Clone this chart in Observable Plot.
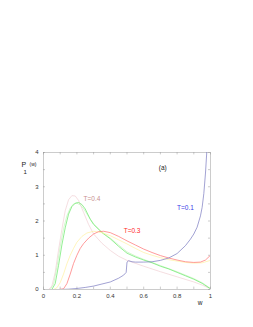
<!DOCTYPE html>
<html><head><meta charset="utf-8">
<script src="https://cdn.jsdelivr.net/npm/d3@7"></script>
<script src="https://cdn.jsdelivr.net/npm/@observablehq/plot@0.6"></script>
<style>body{margin:0;background:#fff;} svg{display:block;}</style>
</head><body><div id="chart"></div>
<script>
const xTicks = [0, 0.2, 0.4, 0.6, 0.8, 1];
const xMinor = [0.1, 0.3, 0.5, 0.7, 0.9];
const yTicks = [0, 1, 2, 3, 4];

const wPink = [0, 0.03, 0.05, 0.07, 0.09, 0.11, 0.13, 0.15, 0.17, 0.19, 0.21, 0.24, 0.27, 0.3, 0.35, 0.4, 0.45, 0.5, 0.6, 0.7, 0.8, 0.9, 0.95, 1.0];
const pPink = [0, 0, 0.1, 0.5, 1.15, 1.75, 2.3, 2.62, 2.74, 2.73, 2.6, 2.25, 1.9, 1.62, 1.35, 1.14, 0.97, 0.85, 0.68, 0.52, 0.37, 0.22, 0.13, 0.02];

const wLightGreen = [0, 0.04, 0.06, 0.08, 0.1, 0.12, 0.14, 0.16, 0.18, 0.2, 0.22, 0.24, 0.27, 0.3, 0.35, 0.4, 0.45, 0.5, 0.55, 0.6, 0.7, 0.8, 0.9, 0.95, 1.0];
const pLightGreen = [0, 0, 0.15, 0.65, 1.25, 1.78, 2.15, 2.38, 2.5, 2.52, 2.47, 2.36, 2.13, 1.92, 1.68, 1.5, 1.3, 1.1, 0.98, 0.88, 0.7, 0.52, 0.32, 0.2, 0.03];

const wGreen = [0, 0.05, 0.07, 0.09, 0.11, 0.13, 0.15, 0.17, 0.19, 0.21, 0.23, 0.25, 0.28, 0.3, 0.35, 0.4, 0.45, 0.5, 0.55, 0.6, 0.65, 0.7, 0.75, 0.8, 0.85, 0.9, 0.95, 1.0];
const pGreen = [0, 0, 0.17, 0.7, 1.3, 1.8, 2.2, 2.42, 2.52, 2.54, 2.48, 2.35, 2.05, 1.9, 1.66, 1.48, 1.26, 1.06, 0.95, 0.86, 0.78, 0.68, 0.6, 0.5, 0.4, 0.3, 0.18, 0.02];

const wYellow = [0.06, 0.08, 0.1, 0.12, 0.14, 0.16, 0.18, 0.2, 0.23, 0.26, 0.3, 0.35, 0.4, 0.45, 0.5, 0.55, 0.6, 0.65, 0.7, 0.75, 0.8, 0.85, 0.9, 0.95, 1.0];
const pYellow = [0, 0.05, 0.2, 0.45, 0.75, 1.0, 1.2, 1.38, 1.55, 1.65, 1.7, 1.66, 1.57, 1.45, 1.33, 1.2, 1.08, 1.0, 0.93, 0.87, 0.83, 0.79, 0.77, 0.78, 0.85];

const wRed = [0.09, 0.12, 0.14, 0.16, 0.18, 0.2, 0.22, 0.24, 0.27, 0.3, 0.33, 0.36, 0.4, 0.45, 0.5, 0.55, 0.6, 0.65, 0.7, 0.75, 0.8, 0.85, 0.9, 0.94, 0.97, 1.0];
const pRed = [0, 0.02, 0.17, 0.45, 0.76, 1.0, 1.2, 1.34, 1.5, 1.62, 1.69, 1.7, 1.66, 1.55, 1.42, 1.3, 1.18, 1.08, 0.99, 0.92, 0.86, 0.81, 0.79, 0.8, 0.86, 1.0];

const wBlue = [0.1, 0.15, 0.2, 0.25, 0.3, 0.35, 0.4, 0.45, 0.48, 0.495, 0.5, 0.51, 0.53, 0.55, 0.6, 0.65, 0.7, 0.75, 0.8, 0.85, 0.88, 0.9, 0.92, 0.94, 0.95, 0.96, 0.97, 0.98, 0.99];
const pBlue = [0, 0.01, 0.03, 0.06, 0.1, 0.16, 0.22, 0.33, 0.42, 0.5, 0.8, 0.84, 0.81, 0.8, 0.8, 0.81, 0.85, 0.92, 1.05, 1.28, 1.47, 1.62, 1.82, 2.15, 2.4, 2.8, 3.4, 4.2, 5];

const series = [
  {name: "pink", w: wPink, p: pPink, color: "#f0d0d4"},
  {name: "lightgreen", w: wLightGreen, p: pLightGreen, color: "#c4f4bc"},
  {name: "green", w: wGreen, p: pGreen, color: "#66e866"},
  {name: "yellow", w: wYellow, p: pYellow, color: "#fff0a0"},
  {name: "red", w: wRed, p: pRed, color: "#ff7070"},
  {name: "blue", w: wBlue, p: pBlue, color: "#7a7ac0"}
];

const labels = [
  {text: "T=0.4", x: 0.24, y: 2.64, color: "#c89090"},
  {text: "T=0.3", x: 0.48, y: 1.7, color: "#ff2a2a"},
  {text: "T=0.1", x: 0.8, y: 2.37, color: "#3a3ae8"},
  {text: "(a)", x: 0.69, y: 3.56, color: "#222"}
];

const marks = [
  Plot.frame({stroke: "#999", strokeWidth: 0.5}),
  Plot.ruleX(xTicks.concat(xMinor), {x: d => d, y1: 0, y2: 0.07, stroke: "#999", strokeWidth: 0.5}),
  Plot.ruleX(xTicks.concat(xMinor), {x: d => d, y1: 4, y2: 3.93, stroke: "#999", strokeWidth: 0.5}),
  Plot.ruleY(yTicks.concat([0.5,1.5,2.5,3.5]), {y: d => d, x1: 0, x2: 0.012, stroke: "#999", strokeWidth: 0.5}),
  Plot.ruleY(yTicks.concat([0.5,1.5,2.5,3.5]), {y: d => d, x1: 1, x2: 0.988, stroke: "#999", strokeWidth: 0.5}),
  Plot.axisX({ticks: xTicks, tickSize: 0, tickPadding: 4, tickFormat: d => String(d), fontSize: 6, fill: "#333"}),
  Plot.axisY({ticks: yTicks, tickSize: 0, tickPadding: 5, tickFormat: d => String(d), fontSize: 6, fill: "#333"})
];
for (const s of series) {
  marks.push(Plot.line(s.w.map((w, i) => ({w, p: s.p[i]})), {x: "w", y: "p", stroke: s.color, strokeWidth: 0.7, clip: true}));
}
marks.push(Plot.text(labels, {x: "x", y: "y", text: "text", fill: "color", fontSize: 6.5, textAnchor: "start"}));
marks.push(Plot.text(["P"], {frameAnchor: "top-left", dx: -22, dy: 10, fontSize: 7, fill: "#222"}));
marks.push(Plot.text(["(w)"], {frameAnchor: "top-left", dx: -14, dy: 10, fontSize: 5, fill: "#222"}));
marks.push(Plot.text(["1"], {frameAnchor: "top-left", dx: -20, dy: 17, fontSize: 6, fill: "#222"}));
marks.push(Plot.text(["w"], {frameAnchor: "bottom-right", dx: -8, dy: 15, fontSize: 6.5, fill: "#222"}));

const chart = Plot.plot({
  width: 253,
  height: 327,
  marginLeft: 43,
  marginRight: 43,
  marginTop: 152,
  marginBottom: 38,
  style: {fontFamily: "'Liberation Sans', Arial, sans-serif", background: "#fff"},
  x: {domain: [0, 1]},
  y: {domain: [0, 4]},
  marks
});
document.getElementById("chart").appendChild(chart);
</script>
</body></html>
